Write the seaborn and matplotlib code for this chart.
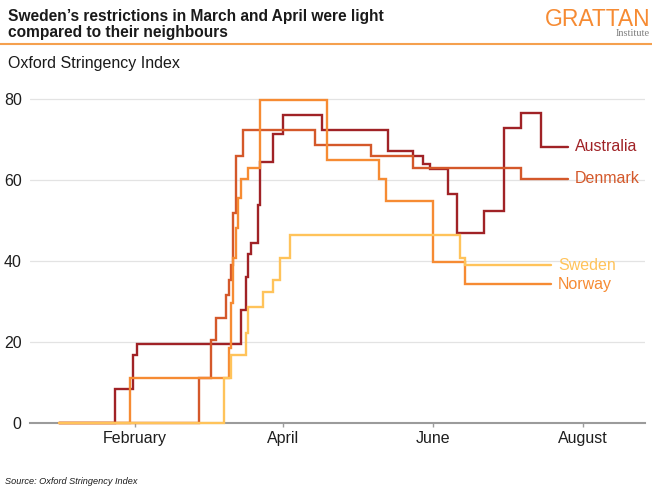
import matplotlib
matplotlib.use("Agg")
import matplotlib.pyplot as plt
from matplotlib.lines import Line2D
import pandas as pd
import seaborn as sns

# Oxford Stringency Index, recorded as the dates on which each country's score changed
countries = ["Australia", "Denmark", "Norway", "Sweden"]

australia_dates = ["2020-01-01", "2020-01-24", "2020-01-31", "2020-02-02", "2020-03-15",
                   "2020-03-17", "2020-03-18", "2020-03-19", "2020-03-22", "2020-03-23",
                   "2020-03-28", "2020-04-01", "2020-04-17", "2020-05-14", "2020-05-24",
                   "2020-05-28", "2020-05-31", "2020-06-07", "2020-06-11", "2020-06-22",
                   "2020-06-30", "2020-07-07", "2020-07-15", "2020-07-26"]
australia_values = [0, 8.33, 16.67, 19.44, 27.78,
                    36.11, 41.67, 44.44, 53.70, 64.35,
                    71.30, 75.93, 72.22, 67.13, 65.74,
                    63.89, 62.50, 56.48, 46.76, 52.31,
                    72.69, 76.39, 68.06, 68.06]

denmark_dates = ["2020-01-01", "2020-02-27", "2020-03-03", "2020-03-05", "2020-03-09",
                 "2020-03-10", "2020-03-11", "2020-03-12", "2020-03-13", "2020-03-16",
                 "2020-04-14", "2020-05-07", "2020-05-24", "2020-07-07", "2020-07-26"]
denmark_values = [0, 11.11, 20.37, 25.93, 31.48,
                  35.19, 38.89, 51.85, 65.74, 72.22,
                  68.52, 65.74, 62.96, 60.19, 60.19]

norway_dates = ["2020-01-01", "2020-01-30", "2020-03-10", "2020-03-11", "2020-03-12",
                "2020-03-13", "2020-03-14", "2020-03-15", "2020-03-18", "2020-03-23",
                "2020-04-19", "2020-05-10", "2020-05-13", "2020-06-01", "2020-06-14",
                "2020-07-19"]
norway_values = [0, 11.11, 18.52, 29.63, 40.74,
                 48.15, 55.56, 60.19, 62.96, 79.63,
                 64.81, 60.19, 54.63, 39.81, 34.26,
                 34.26]

sweden_dates = ["2020-01-01", "2020-03-08", "2020-03-11", "2020-03-17", "2020-03-18",
                "2020-03-24", "2020-03-28", "2020-03-31", "2020-04-04", "2020-06-12",
                "2020-06-14", "2020-07-19"]
sweden_values = [0, 11.11, 16.67, 22.22, 28.70,
                 32.41, 35.19, 40.74, 46.30, 40.74,
                 38.89, 38.89]

month_ticks = ["2020-02-01", "2020-04-01", "2020-06-01", "2020-08-01"]
month_labels = ["February", "April", "June", "August"]
y_ticks = [0, 20, 40, 60, 80]

colours = {"Australia": "#A02226", "Denmark": "#D4582A",
           "Norway": "#F68B33", "Sweden": "#FFC35A"}

series = {
    "Australia": (australia_dates, australia_values),
    "Denmark": (denmark_dates, denmark_values),
    "Norway": (norway_dates, norway_values),
    "Sweden": (sweden_dates, sweden_values),
}
frames = []
for name in countries:
    d, v = series[name]
    frames.append(pd.DataFrame({"date": pd.to_datetime(d), "index": v, "country": name}))
df = pd.concat(frames, ignore_index=True)

sns.set_theme(style="white")
plt.rcParams["font.family"] = ["Liberation Sans", "DejaVu Sans"]

W, H = 652, 490
fig = plt.figure(figsize=(W / 100, H / 100), dpi=100)
ax = fig.add_axes([30 / W, 1 - 423 / H, 615 / W, 332.6 / H])

sns.lineplot(data=df, x="date", y="index", hue="country", hue_order=countries,
             palette=colours, drawstyle="steps-post", linewidth=1.7,
             estimator=None, errorbar=None, legend=False, ax=ax)
for ln in ax.get_lines():
    ln.set_clip_on(False)
    ln.set_zorder(3)
    ln.set_solid_joinstyle("miter")

ax.set_xlim(pd.Timestamp("2019-12-20 08:00"), pd.Timestamp("2020-08-26 06:00"))
ax.set_ylim(0, 82)
ax.set_xticks(pd.to_datetime(month_ticks))
ax.set_xticklabels(month_labels)
ax.set_yticks(y_ticks)
ax.set_xlabel("")
ax.set_ylabel("")

ax.grid(axis="y", color="#e3e3e3", linewidth=0.9)
ax.grid(axis="x", visible=False)
for s in ["top", "right", "left"]:
    ax.spines[s].set_visible(False)
ax.spines["bottom"].set_color("#9b9b9b")
ax.spines["bottom"].set_linewidth(1.5)
ax.tick_params(axis="x", length=3, width=1, color="#9b9b9b", pad=3,
               labelsize=11.5, labelcolor="#1e1e1e", bottom=True)
ax.tick_params(axis="y", length=0, pad=6, labelsize=11.5, labelcolor="#1e1e1e")

# Direct labels at the end of each line
for name in countries:
    d, v = series[name]
    ax.annotate(name, xy=(pd.Timestamp(d[-1]), v[-1]), xytext=(5, 0),
                textcoords="offset points", ha="left", va="center",
                fontsize=11.5, color=colours[name])

# Header
fig.text(8 / W, 1 - 21 / H, "Sweden\u2019s restrictions in March and April were light",
         fontsize=11.2, fontweight="bold", color="#1a1a1a", va="baseline", ha="left")
fig.text(8 / W, 1 - 37.5 / H, "compared to their neighbours",
         fontsize=11.2, fontweight="bold", color="#1a1a1a", va="baseline", ha="left")
fig.add_artist(Line2D([0, 1], [1 - 44.5 / H] * 2, transform=fig.transFigure,
                      color="#F5A04E", linewidth=1.5))
fig.text(8 / W, 1 - 68.3 / H, "Oxford Stringency Index", fontsize=11.5,
         color="#1a1a1a", va="baseline", ha="left")

# Logo
fig.text(650 / W, 1 - 25.5 / H, "GRATTAN", fontsize=16.5, color="#F68B33",
         va="baseline", ha="right")
fig.text(650 / W, 1 - 36 / H, "Institute", fontsize=7.5, color="#7f7f7f",
         family="Liberation Serif", va="baseline", ha="right")

# Footer
fig.text(5 / W, 1 - 484 / H, "Source: Oxford Stringency Index", fontsize=6.6,
         style="italic", color="#1a1a1a", va="baseline", ha="left")

fig.savefig("out.png", dpi=100)
